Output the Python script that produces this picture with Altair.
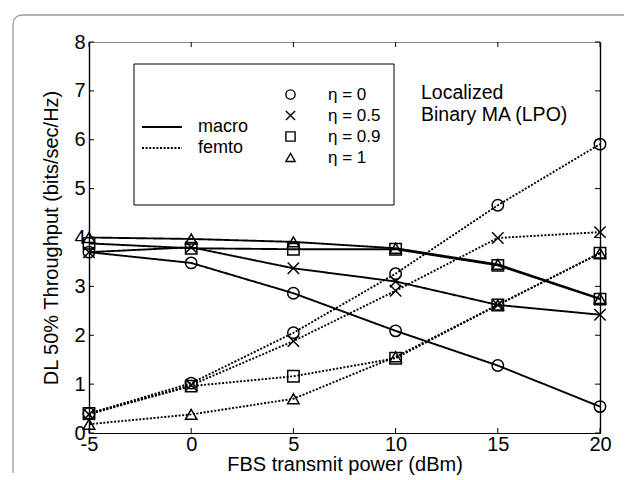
import math
import altair as alt
import pandas as pd

# ---------------- data ----------------
x_power = [-5, 0, 5, 10, 15, 20]
eta_labels = ["η = 0", "η = 0.5", "η = 0.9", "η = 1"]
link_types = ["macro", "femto"]

macro_eta0 = [3.70, 3.48, 2.86, 2.09, 1.38, 0.54]
macro_eta05 = [3.70, 3.80, 3.37, 3.10, 2.62, 2.42]
macro_eta09 = [3.88, 3.78, 3.76, 3.76, 3.43, 2.74]
macro_eta1 = [4.00, 3.97, 3.91, 3.78, 3.45, 2.75]

femto_eta0 = [0.40, 1.02, 2.05, 3.26, 4.66, 5.91]
femto_eta05 = [0.38, 0.98, 1.88, 2.91, 3.99, 4.11]
femto_eta09 = [0.40, 0.96, 1.16, 1.53, 2.62, 3.68]
femto_eta1 = [0.18, 0.38, 0.70, 1.56, 2.62, 3.68]

annotation_lines = ["Localized", "Binary MA (LPO)"]
x_title = "FBS transmit power (dBm)"
y_title = "DL 50% Throughput (bits/sec/Hz)"
y_ticks = [0, 1, 2, 3, 4, 5, 6, 7, 8]

series = {
    ("macro", "η = 0"): macro_eta0,
    ("macro", "η = 0.5"): macro_eta05,
    ("macro", "η = 0.9"): macro_eta09,
    ("macro", "η = 1"): macro_eta1,
    ("femto", "η = 0"): femto_eta0,
    ("femto", "η = 0.5"): femto_eta05,
    ("femto", "η = 0.9"): femto_eta09,
    ("femto", "η = 1"): femto_eta1,
}
rows = []
for (kind, eta), vals in series.items():
    for xp, v in zip(x_power, vals):
        rows.append({"power": xp, "thr": v, "type": kind, "eta": eta,
                     "series": kind + " " + eta})
df = pd.DataFrame(rows)
xt_df = pd.DataFrame({"xt": x_power})
yt_df = pd.DataFrame({"yt": y_ticks})

FONT = "Liberation Sans"
W, H = 511, 391
PAD = {"left": 81, "top": 34, "right": 27, "bottom": 46}
TICK = 5
x_shape_path = "M-1,-1L1,1M-1,1L1,-1"

x_scale = alt.Scale(domain=[-5, 20], nice=False, zero=False)
y_scale = alt.Scale(domain=[0, 8], nice=False, zero=False)

base = alt.Chart(df)

lines = base.mark_line(color="black", strokeWidth=1.9).encode(
    x=alt.X("power:Q", scale=x_scale,
            axis=alt.Axis(orient="bottom", values=x_power, title=x_title,
                          labelExpr="'' + datum.value",
                          ticks=False, domain=True, domainColor="black",
                          domainWidth=1.2, grid=False,
                          labelPadding=1, labelFontSize=20, titleFontSize=20,
                          titlePadding=0, labelFont=FONT, titleFont=FONT,
                          labelColor="black", titleColor="black",
                          titleFontWeight="normal", labelFlush=False)),
    y=alt.Y("thr:Q", scale=y_scale,
            axis=alt.Axis(orient="left", values=y_ticks, title=y_title,
                          ticks=False, domain=True, domainColor="black",
                          domainWidth=1.4, grid=False,
                          labelPadding=4, labelFontSize=20, titleFontSize=20,
                          titlePadding=12, labelFont=FONT, titleFont=FONT,
                          labelColor="black", titleColor="black",
                          titleFontWeight="normal", labelFlush=False)),
    strokeDash=alt.StrokeDash(
        "type:N",
        scale=alt.Scale(domain=link_types, range=[[1, 0], [2, 1.6]]),
        legend=alt.Legend(orient="none", legendX=64, legendY=76, title=None,
                          symbolType="M-4,0H4", symbolSize=100,
                          symbolStrokeWidth=1.9, symbolStrokeColor="black",
                          symbolFillColor="transparent",
                          labelFontSize=18, labelFont=FONT, labelColor="black",
                          labelOffset=27, rowPadding=3, padding=0)),
    detail="series:N",
)

points = base.mark_point(filled=False, color="black", size=130,
                         strokeWidth=1.5, opacity=1).encode(
    x=alt.X("power:Q", scale=x_scale, axis=None),
    y=alt.Y("thr:Q", scale=y_scale, axis=None),
    shape=alt.Shape(
        "eta:N",
        scale=alt.Scale(domain=eta_labels,
                        range=["circle", x_shape_path, "square", "triangle-up"]),
        legend=alt.Legend(orient="none", legendX=193, legendY=44, title=None,
                          symbolSize=85, symbolStrokeWidth=1.4,
                          symbolStrokeColor="black", symbolFillColor="transparent",
                          labelFontSize=17, labelFont=FONT, labelColor="black",
                          labelOffset=29, rowPadding=3, padding=0)),
)

# top / right frame edges
frame_tr = base.mark_point(opacity=0).encode(
    x=alt.X("power:Q", scale=x_scale,
            axis=alt.Axis(orient="top", title=None, labels=False, ticks=False,
                          domain=True, domainColor="#8a8a8a", domainWidth=1.2,
                          grid=False)),
    y=alt.Y("thr:Q", scale=y_scale,
            axis=alt.Axis(orient="right", title=None, labels=False, ticks=False,
                          domain=True, domainColor="black", domainWidth=1.4,
                          grid=False)),
)

# inward tick marks on all four sides, positioned by the scales
xt = alt.Chart(xt_df)
yt = alt.Chart(yt_df)
tick_bottom = xt.mark_rule(color="black", strokeWidth=1).encode(
    x=alt.X("xt:Q", scale=x_scale, axis=None), y=alt.value(H), y2=alt.value(H - TICK))
tick_top = xt.mark_rule(color="black", strokeWidth=1).encode(
    x=alt.X("xt:Q", scale=x_scale, axis=None), y=alt.value(0), y2=alt.value(TICK))
tick_left = yt.mark_rule(color="black", strokeWidth=1).encode(
    y=alt.Y("yt:Q", scale=y_scale, axis=None), x=alt.value(0), x2=alt.value(TICK))
tick_right = yt.mark_rule(color="black", strokeWidth=1).encode(
    y=alt.Y("yt:Q", scale=y_scale, axis=None), x=alt.value(W), x2=alt.value(W - TICK))

one = alt.Chart(pd.DataFrame({"k": [0]}))

# outer figure frame (only the top-left rounded corner is in view)
FR_COL = "#9a9a9a"
FX, FY, FR = -76, -27, 9
frame_top = one.mark_rule(color=FR_COL, strokeWidth=1.3).encode(
    x=alt.value(FX + FR), x2=alt.value(W + 24), y=alt.value(FY))
frame_left = one.mark_rule(color=FR_COL, strokeWidth=1.3).encode(
    x=alt.value(FX), y=alt.value(FY + FR), y2=alt.value(H + 40))
frame_corner = one.mark_arc(color=FR_COL, radius=FR + 0.65, radius2=FR - 0.65,
                            theta=1.5 * math.pi, theta2=2 * math.pi).encode(
    x=alt.value(FX + FR), y=alt.value(FY + FR))

legend_box = one.mark_rect(fill="white", stroke="black", strokeWidth=1).encode(
    x=alt.value(45), x2=alt.value(305), y=alt.value(22), y2=alt.value(163))

annot = one.mark_text(text=annotation_lines, align="left", baseline="middle",
                      font=FONT, fontSize=19.5, lineHeight=22, color="black").encode(
    x=alt.value(332), y=alt.value(51))

chart = alt.layer(frame_top, frame_left, frame_corner, legend_box,
                  tick_bottom, tick_top, tick_left, tick_right,
                  lines, points, frame_tr, annot).resolve_axis(
    x="independent", y="independent"
).properties(
    width=W, height=H, autosize="none", padding=PAD,
).configure_view(stroke=None).configure(background="white")

chart.save("out.html", embed_options={"renderer": "svg", "actions": False})
